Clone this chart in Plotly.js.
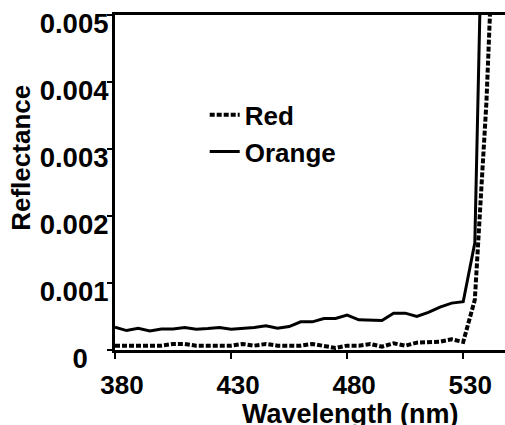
<!DOCTYPE html>
<html>
<head>
<meta charset="utf-8">
<script src="https://cdn.plot.ly/plotly-3.0.1.min.js"></script>
<style>html,body{margin:0;padding:0;background:#fff;}#chart{width:505px;height:425px;}</style>
</head>
<body>
<div id="chart"></div>
<script>
// Wavelength (nm)
const wavelengthsRed = [380,385,390,395,400,405,410,415,420,425,430,435,440,445,450,455,460,465,470,475,480,485,490,495,500,505,510,515,520,525,530,535,540,545];
const wavelengthsOrange = [380,385,390,395,400,405,410,415,420,425,430,435,440,445,450,455,460,465,470,475,480,485,490,495,500,505,510,515,520,525,530,535,540];
// Reflectance
const redValues = [0.000065,0.000065,0.000065,0.000065,0.000065,0.00009,0.00009,0.000065,0.000065,0.000065,0.000065,0.00009,0.000065,0.00009,0.000065,0.000065,0.000065,0.00009,0.00006,0.00003,0.000065,0.000065,0.00009,0.00005,0.0001,0.000065,0.00011,0.00011,0.000125,0.00016,0.00012,0.00075,0.0037,0.008];
const orangeValues = [0.00034,0.00029,0.000325,0.000285,0.000315,0.000315,0.000335,0.00031,0.00032,0.000335,0.00031,0.00032,0.000335,0.00036,0.000325,0.00035,0.00042,0.00042,0.00047,0.00047,0.00052,0.00045,0.00045,0.00044,0.00055,0.00055,0.0005,0.00056,0.00064,0.0007,0.00072,0.0016,0.0095];
const seriesNames = ["Red", "Orange"];
const xTickVals = [380, 430, 480, 530];
const yTickVals = [0, 0.001, 0.002, 0.003, 0.004, 0.005];
const yTickText = ["0\u2007\u2009", "0.001", "0.002", "0.003", "0.004", "0.005"];

const FONT = "Liberation Sans, Arial, Helvetica, sans-serif";

const traces = [
  {x: wavelengthsRed, y: redValues, name: seriesNames[0], type: "scatter", mode: "lines",
   line: {color: "#000", width: 4, dash: "5px,2px"}},
  {x: wavelengthsOrange, y: orangeValues, name: seriesNames[1], type: "scatter", mode: "lines",
   line: {color: "#000", width: 3}}
];

const layout = {
  width: 505, height: 425,
  margin: {l: 115, r: 0, t: 15, b: 75, pad: 0},
  paper_bgcolor: "#fff", plot_bgcolor: "#fff",
  font: {family: FONT, color: "#000", size: 26, weight: "bold"},
  showlegend: true,
  legend: {x: 0.23, y: 0.772, xanchor: "left", yanchor: "top", bgcolor: "rgba(0,0,0,0)",
           font: {family: FONT, size: 26, color: "#000", weight: "bold"}, tracegroupgap: 0},
  xaxis: {range: [380, 548], tickvals: xTickVals, ticktext: xTickVals.map(String),
          showline: true, linecolor: "#000", linewidth: 3, mirror: true,
          ticks: "outside", ticklen: 6, tickwidth: 2, tickcolor: "#000",
          showgrid: false, zeroline: false,
          tickfont: {family: FONT, size: 26, color: "#000", weight: "bold"},
          ticklabelstandoff: 4, ticklabelshift: 7},
  yaxis: {range: [0, 0.005], tickvals: yTickVals, ticktext: yTickText,
          showline: true, linecolor: "#000", linewidth: 3,
          ticks: "outside", ticklen: 5, tickwidth: 2, tickcolor: "#000",
          showgrid: false, zeroline: false,
          tickfont: {family: FONT, size: 27.5, color: "#000", weight: "bold"},
          ticklabelstandoff: -7, ticklabelshift: 8},
  annotations: [
    {text: "Wavelength (nm)", xref: "paper", yref: "paper", x: 0.605, y: -0.14,
     xanchor: "center", yanchor: "top", showarrow: false,
     font: {family: FONT, size: 27, color: "#000", weight: "bold"}},
    {text: "Reflectance", xref: "paper", yref: "paper", x: -0.24, y: 0.575,
     xanchor: "center", yanchor: "middle", textangle: -90, showarrow: false,
     font: {family: FONT, size: 26, color: "#000", weight: "bold"}}
  ]
};

Plotly.newPlot("chart", traces, layout, {displayModeBar: false, staticPlot: true});
</script>
</body>
</html>
